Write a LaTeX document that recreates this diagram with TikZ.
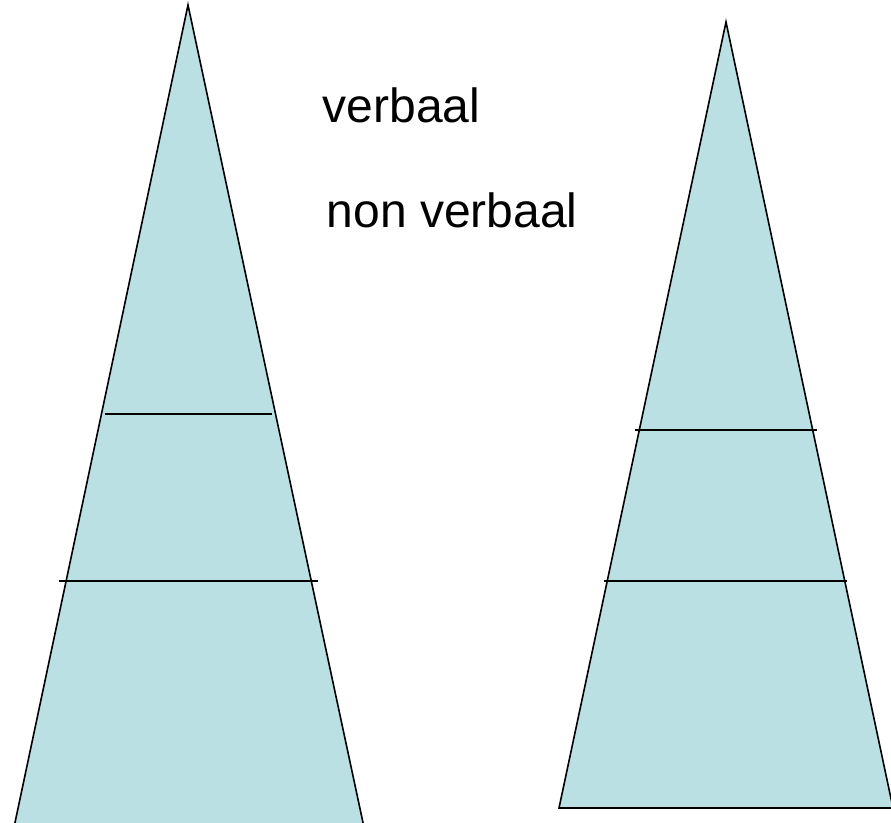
\documentclass[tikz,border=0pt]{standalone}
\usepackage{fontspec}
\setmainfont{Liberation Sans}
\definecolor{cone}{HTML}{BBE0E3}

\begin{document}
\begin{tikzpicture}[x=1pt, y=-1pt, line width=1.6pt,
  label/.style={anchor=base west, inner sep=0pt, font=\fontsize{48}{56}\selectfont}]

% frame
\useasboundingbox (0,0) rectangle (891,822);
\clip (0,0) rectangle (891,822);

% left cone (runs past the bottom edge)
\draw[fill=cone] (188,5) -- (13,832) -- (365,832) -- cycle;

% its layers
\draw (105,414) -- (272,414);
\draw (59,581) -- (318,581);

% right cone
\draw[fill=cone] (726,22) -- (559,808) -- (893,808) -- cycle;

% its layers
\draw (635,430) -- (817,430);
\draw (604,581) -- (847,581);

% labels
\node[label] (verbaal) at (322,122) {verbaal};
\node[label] (nonverbaal) at (326,227) {non verbaal};

\end{tikzpicture}
\end{document}
